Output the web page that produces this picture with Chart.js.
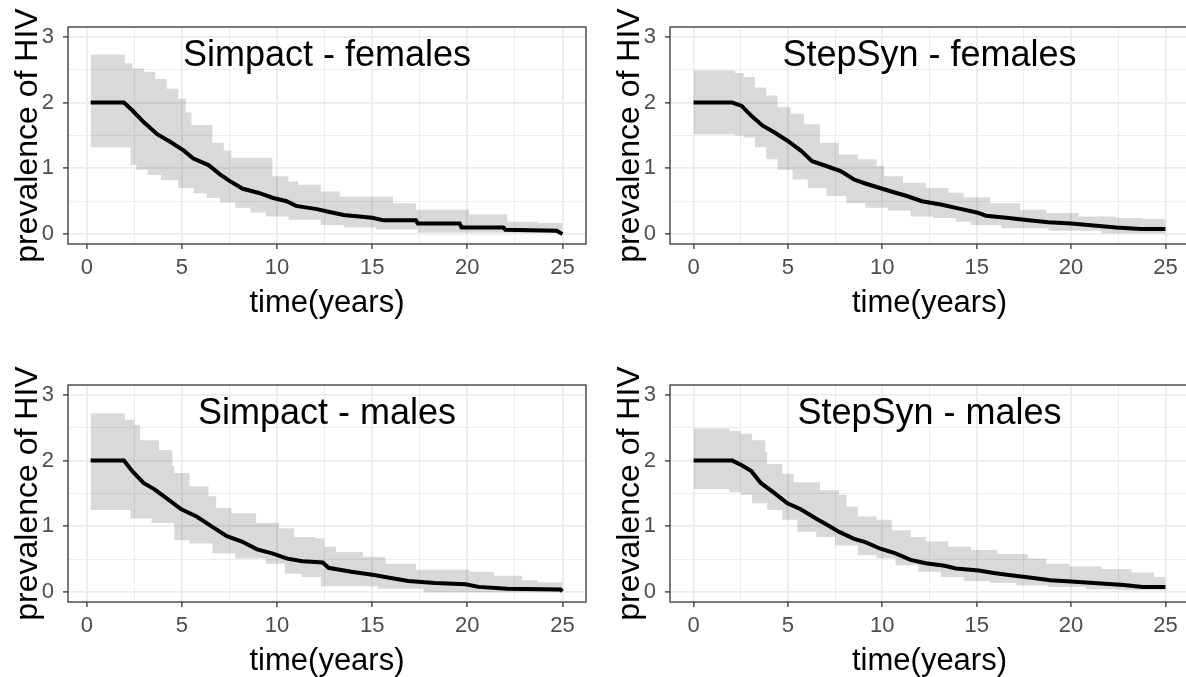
<!DOCTYPE html>
<html>
<head>
<meta charset="utf-8">
<script src="https://cdn.jsdelivr.net/npm/chart.js@4.4.0/dist/chart.umd.min.js"></script>
<style>
  html, body { margin: 0; padding: 0; background: #fff; overflow: hidden; width: 1186px; height: 677px; }
  canvas { position: absolute; }
</style>
</head>
<body>
<canvas id="simpactF" width="593" height="335" style="left:0;top:0"></canvas>
<canvas id="stepsynF" width="594" height="335" style="left:602px;top:0"></canvas>
<canvas id="simpactM" width="593" height="335" style="left:0;top:358px"></canvas>
<canvas id="stepsynM" width="594" height="335" style="left:602px;top:358px"></canvas>
<script>
// tick labels
const xTicks = [0, 5, 10, 15, 20, 25];
const yTicks = [0, 1, 2, 3];

// Simpact - females
const sfTime = [0.2, 1.95, 2.4, 3.0, 3.7, 4.4, 5.1, 5.6, 6.4, 7.0, 7.5, 8.2, 9.0, 9.8, 10.5, 11.0, 12.1, 12.7, 13.5, 15.0, 15.6, 17.3, 17.4, 19.6, 19.7, 21.9, 22.0, 24.7, 25.0];
const sfMean = [2.0, 2.0, 1.88, 1.70, 1.52, 1.40, 1.27, 1.15, 1.05, 0.91, 0.81, 0.69, 0.63, 0.55, 0.50, 0.43, 0.38, 0.34, 0.29, 0.25, 0.21, 0.21, 0.16, 0.16, 0.10, 0.10, 0.065, 0.05, 0.0];
const sfUpTime = [0.2, 2.0, 2.4, 3.0, 3.6, 4.2, 4.8, 5.2, 5.5, 6.6, 7.2, 7.6, 9.75, 10.6, 11.1, 12.3, 13.3, 16.1, 17.3, 20.1, 22.1, 23.7, 25.0];
const sfUp = [2.73, 2.60, 2.52, 2.47, 2.36, 2.21, 2.06, 1.85, 1.66, 1.39, 1.27, 1.16, 0.88, 0.80, 0.75, 0.65, 0.57, 0.47, 0.37, 0.30, 0.19, 0.17, 0.17];
const sfLoTime = [0.2, 2.3, 2.6, 3.2, 3.9, 4.8, 5.6, 6.3, 7.0, 7.8, 8.6, 9.4, 10.6, 12.3, 13.5, 15.2, 17.4, 25.0];
const sfLo = [1.32, 1.05, 0.98, 0.90, 0.82, 0.70, 0.62, 0.55, 0.48, 0.40, 0.33, 0.27, 0.22, 0.14, 0.10, 0.07, 0.02, 0.02];

// StepSyn - females
const ffTime = [0, 2.05, 2.55, 3.06, 3.66, 4.27, 4.97, 5.68, 6.28, 6.99, 7.79, 8.5, 9.1, 10.0, 10.7, 11.3, 12.1, 13.1, 13.9, 15.0, 15.5, 16.7, 17.75, 18.8, 20.0, 21.2, 22.4, 23.7, 25];
const ffMean = [2.0, 2.0, 1.95, 1.80, 1.65, 1.55, 1.42, 1.27, 1.11, 1.04, 0.96, 0.83, 0.77, 0.69, 0.63, 0.58, 0.50, 0.45, 0.40, 0.33, 0.28, 0.245, 0.21, 0.18, 0.16, 0.13, 0.10, 0.077, 0.077];
const ffUpTime = [0, 2.2, 2.65, 3.25, 3.85, 4.45, 5.15, 5.85, 6.7, 7.7, 8.7, 9.7, 10.1, 11.1, 12.3, 13.5, 14.3, 15.7, 17.3, 18.7, 20.4, 22.4, 23.8, 25];
const ffUp = [2.49, 2.45, 2.39, 2.23, 2.11, 1.93, 1.83, 1.67, 1.39, 1.21, 1.14, 1.04, 0.88, 0.78, 0.70, 0.63, 0.56, 0.47, 0.37, 0.32, 0.27, 0.245, 0.23, 0.22];
const ffLoTime = [0, 2.2, 2.65, 3.25, 3.85, 4.45, 5.25, 6.05, 7.05, 8.1, 9.1, 10.3, 11.5, 12.7, 13.9, 14.7, 16.3, 18.8, 21.6, 25];
const ffLo = [1.52, 1.50, 1.47, 1.32, 1.14, 0.98, 0.83, 0.70, 0.58, 0.47, 0.40, 0.36, 0.27, 0.245, 0.19, 0.14, 0.09, 0.05, 0.015, 0.015];

// Simpact - males
const smTime = [0.2, 1.95, 2.39, 2.98, 3.58, 4.18, 4.97, 5.77, 6.56, 7.36, 8.15, 8.95, 9.74, 10.54, 11.34, 12.4, 12.7, 13.9, 15.1, 15.9, 16.9, 18.3, 19.9, 20.6, 22.1, 24.9, 25];
const smMean = [2.0, 2.0, 1.84, 1.66, 1.56, 1.43, 1.26, 1.15, 1.00, 0.85, 0.77, 0.65, 0.59, 0.51, 0.47, 0.45, 0.37, 0.31, 0.26, 0.22, 0.17, 0.14, 0.12, 0.08, 0.05, 0.04, 0.01];
const smUpTime = [0.2, 2.0, 2.5, 2.8, 3.8, 4.5, 4.6, 5.4, 6.4, 6.8, 7.6, 8.9, 10.1, 10.9, 12.0, 12.5, 13.1, 14.5, 15.7, 17.3, 20.1, 21.4, 22.9, 23.7, 25];
const smUp = [2.72, 2.62, 2.54, 2.31, 2.16, 1.92, 1.81, 1.61, 1.46, 1.28, 1.20, 1.05, 0.97, 0.84, 0.82, 0.69, 0.61, 0.54, 0.43, 0.34, 0.31, 0.25, 0.18, 0.15, 0.08];
const smLoTime = [0.2, 2.3, 3.4, 4.6, 5.4, 6.6, 7.8, 9.4, 10.4, 11.3, 12.3, 15.3, 17.7, 25];
const smLo = [1.25, 1.12, 1.05, 0.79, 0.74, 0.59, 0.51, 0.43, 0.28, 0.23, 0.09, 0.05, 0.0, 0.0];

// StepSyn - males
const fmTime = [0, 2.05, 2.55, 3.06, 3.56, 4.27, 4.97, 5.68, 6.48, 7.09, 7.69, 8.5, 9.1, 9.9, 10.7, 11.5, 12.3, 13.3, 13.9, 15.1, 15.9, 16.7, 17.9, 18.9, 20.0, 21.6, 22.8, 23.8, 25];
const fmMean = [2.0, 2.0, 1.93, 1.84, 1.66, 1.51, 1.35, 1.26, 1.12, 1.02, 0.92, 0.81, 0.76, 0.66, 0.59, 0.49, 0.44, 0.40, 0.36, 0.33, 0.29, 0.26, 0.22, 0.18, 0.16, 0.13, 0.11, 0.08, 0.08];
const fmUpTime = [0, 1.9, 2.5, 3.1, 3.8, 3.9, 4.7, 5.3, 6.7, 7.7, 8.1, 8.7, 9.7, 10.5, 11.5, 12.3, 13.5, 14.7, 16.1, 17.7, 18.7, 19.9, 21.6, 23.2, 24.4, 25];
const fmUp = [2.49, 2.45, 2.41, 2.31, 2.13, 1.95, 1.80, 1.67, 1.55, 1.48, 1.30, 1.15, 1.10, 0.94, 0.84, 0.77, 0.69, 0.64, 0.58, 0.51, 0.43, 0.39, 0.35, 0.30, 0.23, 0.13];
const fmLoTime = [0, 1.9, 2.5, 3.1, 3.9, 4.7, 5.5, 6.5, 7.5, 8.7, 9.7, 10.7, 11.9, 13.1, 14.3, 15.7, 17.1, 18.8, 20.8, 22.8, 25];
const fmLo = [1.57, 1.52, 1.48, 1.35, 1.25, 1.10, 0.92, 0.84, 0.71, 0.56, 0.51, 0.41, 0.31, 0.23, 0.17, 0.14, 0.10, 0.08, 0.04, 0.03, 0.015];

const fontFamily = '"Liberation Sans", Arial, sans-serif';
const gridColor = '#EBEBEB';
const axisColor = '#333333';
const tickColor = '#4D4D4D';
const ribbonColor = 'rgba(0, 0, 0, 0.15)';

const pts = (t, v) => t.map((x, i) => ({ x: x, y: v[i] }));

// major + minor ticks (minor halfway between majors, like ggplot)
function withMinor(major) {
  const out = [];
  for (let i = 0; i < major.length; i++) {
    out.push(major[i]);
    if (i < major.length - 1) out.push((major[i] + major[i + 1]) / 2);
  }
  return out;
}
const isMajor = (list, v) => list.some(m => Math.abs(m - v) < 1e-6);

// panel title drawn inside the plot + box around the panel
const panelPlugin = {
  id: 'panelTitle',
  afterDraw(chart, args, opts) {
    const { ctx, chartArea } = chart;
    ctx.save();
    ctx.strokeStyle = axisColor;
    ctx.lineWidth = 1.3;
    ctx.strokeRect(chartArea.left, chartArea.top, chartArea.right - chartArea.left, chartArea.bottom - chartArea.top);
    ctx.fillStyle = '#000';
    ctx.font = '36px ' + fontFamily;
    ctx.textAlign = 'center';
    ctx.textBaseline = 'alphabetic';
    ctx.fillText(opts.text, (chartArea.left + chartArea.right) / 2, chartArea.top + 39);
    ctx.restore();
  }
};

function makePanel(id, title, xMin, xMax, time, mean, upTime, up, loTime, lo) {
  const el = document.getElementById(id);
  new Chart(el, {
    type: 'line',
    data: {
      datasets: [
        {
          data: pts(time, mean),
          borderColor: '#000',
          borderWidth: 4,
          pointRadius: 0,
          fill: false
        },
        {
          // confidence band: held value until the next time point
          data: pts(upTime, up),
          stepped: 'before',
          borderWidth: 0,
          borderColor: 'transparent',
          backgroundColor: ribbonColor,
          pointRadius: 0,
          fill: '+1'
        },
        {
          data: pts(loTime, lo),
          stepped: 'before',
          borderWidth: 0,
          borderColor: 'transparent',
          pointRadius: 0,
          fill: false
        }
      ]
    },
    options: {
      responsive: false,
      animation: false,
      layout: {
        autoPadding: false,
        padding: { top: 27, right: el.width - 68 - (id.indexOf('simpact') === 0 ? 518 : 519), bottom: 0, left: 0 }
      },
      plugins: {
        legend: { display: false },
        tooltip: { enabled: false },
        panelTitle: { text: title }
      },
      scales: {
        x: {
          type: 'linear',
          min: xMin,
          max: xMax,
          afterBuildTicks: s => { s.ticks = withMinor(xTicks).map(v => ({ value: v })); },
          afterFit: s => { s.height = el.height - 244; },
          border: { display: false },
          grid: {
            color: gridColor,
            lineWidth: c => isMajor(xTicks, c.tick.value) ? 1.8 : 0.9,
            tickColor: c => isMajor(xTicks, c.tick.value) ? axisColor : 'transparent',
            tickLength: 5,
            tickWidth: 1.3
          },
          ticks: {
            color: tickColor,
            padding: 6,
            maxRotation: 0,
            autoSkip: false,
            font: { family: fontFamily, size: 22 },
            callback: v => isMajor(xTicks, v) ? String(v) : ''
          },
          title: {
            display: true,
            text: 'time(years)',
            color: '#000',
            font: { family: fontFamily, size: 31 },
            padding: { top: 0, bottom: 13 }
          }
        },
        y: {
          type: 'linear',
          min: -0.15,
          max: 3.15,
          afterBuildTicks: s => { s.ticks = withMinor(yTicks).map(v => ({ value: v })); },
          afterFit: s => { s.width = 68; },
          border: { display: false },
          grid: {
            color: gridColor,
            lineWidth: c => isMajor(yTicks, c.tick.value) ? 1.8 : 0.9,
            tickColor: c => isMajor(yTicks, c.tick.value) ? axisColor : 'transparent',
            tickLength: 5,
            tickWidth: 1.3
          },
          ticks: {
            color: tickColor,
            padding: 9,
            autoSkip: false,
            font: { family: fontFamily, size: 22 },
            callback: v => isMajor(yTicks, v) ? String(v) : ''
          },
          title: {
            display: true,
            text: 'prevalence of HIV',
            color: '#000',
            font: { family: fontFamily, size: 32 },
            padding: { top: 9, bottom: 0 }
          }
        }
      }
    },
    plugins: [panelPlugin]
  });
}

makePanel('simpactF', 'Simpact - females', -0.99, 26.24, sfTime, sfMean, sfUpTime, sfUp, sfLoTime, sfLo);
makePanel('stepsynF', 'StepSyn - females', -1.25, 26.25, ffTime, ffMean, ffUpTime, ffUp, ffLoTime, ffLo);
makePanel('simpactM', 'Simpact - males', -0.99, 26.24, smTime, smMean, smUpTime, smUp, smLoTime, smLo);
makePanel('stepsynM', 'StepSyn - males', -1.25, 26.25, fmTime, fmMean, fmUpTime, fmUp, fmLoTime, fmLo);
</script>
</body>
</html>
